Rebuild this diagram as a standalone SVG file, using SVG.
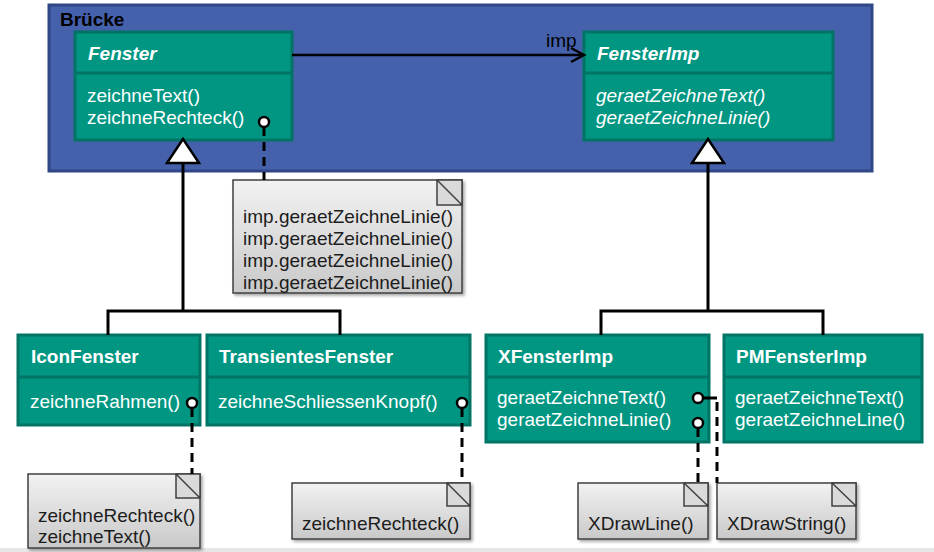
<svg xmlns="http://www.w3.org/2000/svg" width="934" height="552" viewBox="0 0 934 552">
<defs>
<linearGradient id="ng" x1="0" y1="0" x2="0" y2="1">
<stop offset="0" stop-color="#f2f2f2"/>
<stop offset="1" stop-color="#c9c9c9"/>
</linearGradient>
<filter id="sh" x="-10%" y="-10%" width="130%" height="130%">
<feDropShadow dx="2" dy="2" stdDeviation="1.5" flood-color="#000" flood-opacity="0.35"/>
</filter>
</defs>
<style>
text{font-family:"Liberation Sans",Arial,sans-serif;font-size:19px}
.box{fill:#009682;stroke:#007565;stroke-width:3}
.div{stroke:#007565;stroke-width:3}
.hd{fill:#fff;font-weight:bold}
.hi{fill:#fff;font-weight:bold;font-style:italic}
.m{fill:#fff}
.mi{fill:#fff;font-style:italic}
.note{fill:url(#ng);stroke:#404040;stroke-width:1.5;filter:url(#sh)}
.fold{fill:#dadada;stroke:#404040;stroke-width:1.5}
.nt{fill:#1c1c1c}
.ln{stroke:#000;stroke-width:3;fill:none}
.dash{stroke:#000;stroke-width:3;fill:none;stroke-dasharray:9,6}
.tri{fill:#fff;stroke:#000;stroke-width:2.5}
.dot{fill:#fff;stroke:#000;stroke-width:2.5}
</style>
<rect x="0" y="0" width="934" height="552" fill="#fff"/>
<rect x="0" y="548" width="934" height="4" fill="#e6e6e6"/>

<g id="bruecke">
<rect x="49" y="5" width="823" height="166" fill="#4661ab" stroke="#2f4786" stroke-width="3"/>
<text x="60" y="26" style="font-weight:bold;fill:#000">Brücke</text>
</g>

<g id="fenster">
<rect class="box" x="75" y="32" width="217" height="108"/>
<line class="div" x1="75" y1="73" x2="292" y2="73"/>
<text class="hi" x="88" y="60">Fenster</text>
<text class="m" x="87" y="102">zeichneText()</text>
<text class="m" x="87" y="124">zeichneRechteck()</text>
</g>

<g id="fensterimp">
<rect class="box" x="584" y="32" width="249" height="108"/>
<line class="div" x1="584" y1="73" x2="833" y2="73"/>
<text class="hi" x="597" y="60">FensterImp</text>
<text class="mi" x="596" y="102">geraetZeichneText()</text>
<text class="mi" x="596" y="124">geraetZeichneLinie()</text>
</g>

<g id="note1">
<path class="note" d="M233,180 H462 V293 H233 Z"/>
<path class="fold" d="M437,180 H462 V205 H437 Z M437,180 L462,205"/>
<text class="nt" x="243" y="223">imp.geraetZeichneLinie()</text>
<text class="nt" x="243" y="245">imp.geraetZeichneLinie()</text>
<text class="nt" x="243" y="267">imp.geraetZeichneLinie()</text>
<text class="nt" x="243" y="289">imp.geraetZeichneLinie()</text>
</g>

<g id="iconfenster">
<rect class="box" x="18" y="335" width="182" height="90"/>
<line class="div" x1="18" y1="377" x2="200" y2="377"/>
<text class="hd" x="31" y="363">IconFenster</text>
<text class="m" x="30" y="408">zeichneRahmen()</text>
</g>

<g id="transientesfenster">
<rect class="box" x="207" y="335" width="263" height="90"/>
<line class="div" x1="207" y1="377" x2="470" y2="377"/>
<text class="hd" x="219" y="363">TransientesFenster</text>
<text class="m" x="218" y="408">zeichneSchliessenKnopf()</text>
</g>

<g id="xfensterimp">
<rect class="box" x="486" y="335" width="223" height="107"/>
<line class="div" x1="486" y1="377" x2="709" y2="377"/>
<text class="hd" x="498" y="363">XFensterImp</text>
<text class="m" x="497" y="404">geraetZeichneText()</text>
<text class="m" x="497" y="426">geraetZeichneLinie()</text>
</g>

<g id="pmfensterimp">
<rect class="box" x="724" y="335" width="198" height="107"/>
<line class="div" x1="724" y1="377" x2="922" y2="377"/>
<text class="hd" x="736" y="363">PMFensterImp</text>
<text class="m" x="735" y="404">geraetZeichneText()</text>
<text class="m" x="735" y="426">geraetZeichneLine()</text>
</g>

<g id="note2">
<path class="note" d="M28,474 H200 V548 H28 Z"/>
<path class="fold" d="M176,474 H200 V498 H176 Z M176,474 L200,498"/>
<text class="nt" x="38" y="522">zeichneRechteck()</text>
<text class="nt" x="38" y="543">zeichneText()</text>
</g>

<g id="note3">
<path class="note" d="M292,483 H470 V539 H292 Z"/>
<path class="fold" d="M447,483 H470 V506 H447 Z M447,483 L470,506"/>
<text class="nt" x="302" y="530">zeichneRechteck()</text>
</g>

<g id="note4">
<path class="note" d="M578,483 H708 V539 H578 Z"/>
<path class="fold" d="M684,483 H708 V506 H684 Z M684,483 L708,506"/>
<text class="nt" x="588" y="530">XDrawLine()</text>
</g>

<g id="note5">
<path class="note" d="M717,483 H856 V539 H717 Z"/>
<path class="fold" d="M832,483 H856 V506 H832 Z M832,483 L856,506"/>
<text class="nt" x="727" y="530">XDrawString()</text>
</g>

<g id="connectors">
<line x1="292" y1="55" x2="583" y2="55" stroke="#000" stroke-width="2.5"/>
<polyline points="571,48 584,55 571,62" fill="none" stroke="#000" stroke-width="2.5"/>
<text x="546" y="47" style="fill:#000">imp</text>

<polyline class="ln" points="183,163 183,311"/>
<polyline class="ln" points="108,335 108,311 340,311 340,335"/>
<polygon class="tri" points="183,139 167,163 199,163"/>

<polyline class="ln" points="708,163 708,311"/>
<polyline class="ln" points="601,335 601,311 823,311 823,335"/>
<polygon class="tri" points="708,139 692,163 724,163"/>

<line class="dash" x1="264" y1="127" x2="264" y2="180"/>
<circle class="dot" cx="264" cy="122" r="5"/>

<line class="dash" x1="192" y1="408" x2="192" y2="474"/>
<circle class="dot" cx="192" cy="403" r="5"/>

<line class="dash" x1="462" y1="408" x2="462" y2="483"/>
<circle class="dot" cx="462" cy="403" r="5"/>

<line x1="703" y1="398" x2="717" y2="398" stroke="#000" stroke-width="3"/>
<line class="dash" x1="717" y1="402" x2="717" y2="483"/>
<circle class="dot" cx="698" cy="398" r="5"/>

<line class="dash" x1="698" y1="428" x2="698" y2="483"/>
<circle class="dot" cx="698" cy="423" r="5"/>
</g>
</svg>
